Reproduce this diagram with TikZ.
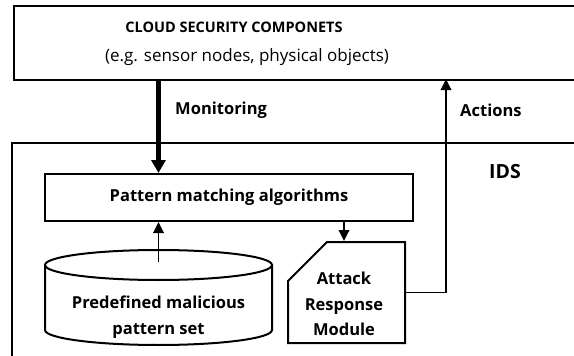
\documentclass[tikz,border=0pt]{standalone}
\usepackage{fontspec}
\setmainfont{Open Sans}
\usetikzlibrary{arrows.meta,shapes.misc,positioning}

\begin{document}
\begin{tikzpicture}[
	x=1pt, y=-1pt,
	>={Triangle[length=11pt,width=10.5pt]},
	line width=1.8pt,
	box/.style={draw,line width=2pt,inner sep=0pt,align=center},
	lbl/.style={font=\bfseries\fontsize{16.5}{25.5}\selectfont,align=center},
	monitor/.style={line width=4.5pt,-{Triangle[length=13pt,width=14pt]}}
	]
	\useasboundingbox (0,0) rectangle (574,356);
	\clip (0,0) rectangle (574,356);
	% outer frames, cut by the page edge
	\node [box,minimum width=600pt,minimum height=74pt,anchor=north west] (cloud) at (13,5) {};
	\draw [line width=2pt] (12,400) -- (12,143) -- (620,143);
	\node [font=\bfseries\fontsize{14.5}{18}\selectfont] (cloudtitle) at (234,27) {CLOUD SECURITY COMPONETS};
	\node [font=\fontsize{17}{20}\selectfont] (cloudnote) at (247,57) {(e.g. sensor nodes, physical objects)};
	\node [font=\bfseries\fontsize{19.5}{22}\selectfont,anchor=west] (ids) at (485,172) {IDS};

	% inside the IDS
	\node [box,lbl,minimum width=368pt,minimum height=47pt] (pattern) at (229,197.5) {Pattern matching algorithms};
	\node [lbl,minimum width=227pt,minimum height=108pt] (store) at (158.5,317) {Predefined malicious\\pattern set};
	\draw [line width=2pt] (45,265) -- (45,330) arc (180:0:113.5 and 15) -- (272,265);
	\draw [line width=2pt] (158.5,265) ellipse (113.5 and 15);
	\node [box,inner sep=25pt,chamfered rectangle,chamfered rectangle corners=north west,
		chamfered rectangle xsep=19pt,chamfered rectangle ysep=20pt,
		minimum width=117pt,minimum height=101pt] (arm) at (346.5,292.5) {};
	\node [lbl] (armtext) at (344,304) {Attack\\Response\\Module};

	% connectors
	\coordinate (up) at (446,79);
	\draw [monitor] (cloud.south -| store) -- (pattern.north -| store);
	\draw [->] (store.north) -- (pattern.south -| store);
	\draw [->] (pattern.south -| armtext) -- (arm.north -| armtext);
	\draw [->] (arm.east) -| (up);
	\node [lbl,anchor=west] (mon) at (171,110) {Monitoring};
	\node [lbl,anchor=west] (act) at (456,110) {Actions};
\end{tikzpicture}
\end{document}
